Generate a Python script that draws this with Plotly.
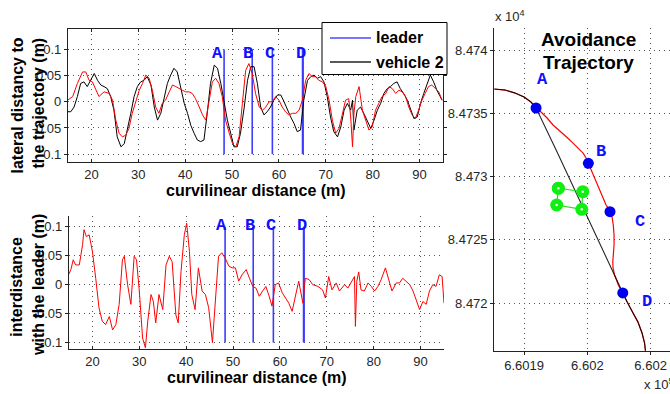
import plotly.graph_objects as go

# ---------------- data: top plot (lateral distance) ----------------
s_red_top = [14.9, 16.0, 17.0, 18.1, 18.8, 19.5, 20.2, 20.9, 21.6, 22.7, 23.8, 24.5, 25.2, 25.9, 26.6,
             27.3, 28.0, 28.7, 29.5, 30.2, 30.9, 31.6, 32.3, 33.0, 33.7, 34.4, 35.1, 35.8, 36.6, 37.3,
             38.0, 38.7, 39.4, 40.1, 40.8, 41.5, 42.2, 43.0, 43.7, 44.4, 45.1, 45.8, 46.5, 47.2, 47.9,
             48.6, 49.4, 50.1, 50.8, 51.5, 52.2, 52.9, 53.6, 54.3, 55.0, 55.8, 56.5, 57.2, 57.9, 58.6,
             59.3, 60.0, 60.7, 61.4, 62.1, 62.9, 63.6, 64.3, 65.0, 65.7, 66.4, 67.1, 67.8, 68.5, 69.3,
             70.0, 70.7, 71.4, 72.1, 72.8, 73.5, 74.2, 74.9, 75.3, 75.7, 76.0, 76.4, 77.1, 77.8, 78.5,
             79.2, 79.9, 80.6, 81.3, 82.0, 82.8, 83.5, 84.2, 84.9, 85.6, 86.3, 87.0, 87.7, 88.4, 89.1,
             89.8, 90.5, 91.2, 91.9, 92.6, 93.3, 94.1, 94.8]
lat_red_top = [0.003, 0.010, 0.035, 0.057, 0.057, 0.041, 0.038, 0.025, 0.010, 0.019, 0.016, 0.003, -0.035, -0.060, -0.067,
               -0.064, -0.051, -0.022, 0.003, 0.022, 0.035, 0.051, 0.045, 0.022, -0.010, -0.022, -0.003, 0.003, 0.019, 0.032,
               0.029, 0.025, 0.022, 0.019, 0.019, 0.016, 0.006, -0.010, -0.025, -0.035, 0.003, 0.038, 0.045, 0.035, 0.010,
               -0.035, -0.060, -0.080, -0.086, -0.067, -0.003, 0.060, 0.073, 0.054, 0.016, -0.010, -0.016, -0.010, 0.000, 0.000,
               0.010, 0.003, -0.010, -0.019, -0.025, -0.022, -0.022, -0.016, 0.003, 0.041, 0.054, 0.048, 0.048, 0.041, 0.038,
               0.029, 0.003, -0.035, -0.060, -0.051, -0.025, 0.003, 0.006, -0.029, -0.086, -0.022, 0.010, 0.029, -0.016, -0.035,
               -0.054, -0.048, -0.016, -0.003, 0.010, 0.016, 0.029, 0.025, 0.016, 0.022, 0.019, 0.010, -0.010, -0.025, -0.032,
               -0.016, 0.003, 0.016, 0.029, 0.032, 0.025, 0.019, 0.003]

s_black_top = [14.9, 15.6, 16.3, 17.0, 17.7, 18.4, 19.1, 19.9, 20.6, 21.3, 22.0, 22.7, 23.4, 24.1, 24.8,
               25.5, 26.3, 27.0, 27.7, 28.4, 29.1, 29.8, 30.5, 31.2, 31.9, 32.7, 33.4, 34.1, 34.8, 35.5,
               36.2, 36.9, 37.6, 38.3, 39.0, 39.8, 40.5, 41.2, 41.9, 42.6, 43.3, 44.0, 44.7, 45.4, 46.2,
               46.9, 47.6, 48.3, 49.0, 49.7, 50.4, 51.1, 51.8, 52.6, 53.3, 54.0, 54.7, 55.4, 56.1, 56.8,
               57.5, 58.2, 58.9, 59.7, 60.4, 61.1, 61.8, 62.5, 63.2, 63.9, 64.6, 65.3, 66.1, 66.8, 67.5,
               68.2, 68.9, 69.6, 70.3, 71.0, 71.7, 72.5, 73.2, 73.9, 74.6, 75.3, 75.7, 76.0, 76.7, 77.4,
               78.1, 78.8, 79.6, 80.3, 81.0, 81.7, 82.4, 83.1, 83.8, 84.5, 85.2, 85.9, 86.6, 87.4, 88.1,
               88.8, 89.5, 90.2, 90.9, 91.6, 92.3, 93.0, 93.7, 94.4, 94.8]
lat_black_top = [-0.019, -0.019, -0.010, 0.010, 0.035, 0.038, 0.029, 0.041, 0.054, 0.041, 0.032, 0.029, 0.025, 0.010, -0.016,
                 -0.067, -0.086, -0.080, -0.054, -0.022, 0.010, 0.029, 0.038, 0.041, 0.048, 0.032, -0.010, -0.035, -0.022, 0.010,
                 0.035, 0.051, 0.064, 0.057, 0.029, -0.003, -0.022, -0.045, -0.060, -0.073, -0.076, -0.073, -0.022, 0.035, 0.070,
                 0.064, 0.035, -0.003, -0.035, -0.060, -0.086, -0.086, -0.060, -0.010, 0.041, 0.067, 0.067, 0.035, -0.010, -0.025,
                 -0.019, -0.010, 0.003, 0.013, 0.013, 0.000, -0.016, -0.029, -0.041, -0.057, -0.054, 0.003, 0.041, 0.048, 0.051,
                 0.045, 0.048, 0.038, 0.010, -0.029, -0.057, -0.067, -0.048, -0.016, -0.003, -0.016, 0.003, -0.054, -0.016, -0.010,
                 -0.022, -0.035, -0.051, -0.035, -0.016, -0.003, 0.016, 0.025, 0.029, 0.035, 0.038, 0.025, 0.016, 0.003, -0.016,
                 -0.032, -0.029, -0.003, 0.016, 0.035, 0.051, 0.038, 0.022, 0.010, 0.003]

# ---------------- data: bottom plot (interdistance) ----------------
s_bot = [14.9, 15.4, 15.9, 16.4, 17.2, 17.9, 18.2, 18.7, 19.3, 20.0, 20.7, 21.4, 22.1, 22.8, 23.6,
         24.3, 25.0, 25.7, 26.4, 26.8, 27.5, 28.2, 28.9, 29.4, 30.0, 30.7, 31.3, 31.8, 32.5, 33.0,
         33.5, 34.2, 35.0, 35.7, 36.4, 37.0, 37.8, 38.3, 38.9, 39.6, 40.1, 40.7, 41.2, 41.9, 42.6,
         43.4, 44.1, 44.8, 45.6, 46.2, 46.9, 47.6, 48.3, 49.1, 49.8, 50.5, 51.2, 51.9, 52.8, 53.5,
         54.2, 54.9, 55.6, 56.3, 57.0, 57.7, 58.3, 59.0, 59.7, 60.5, 61.2, 61.9, 62.6, 63.3, 64.0,
         64.9, 65.4, 66.2, 67.0, 68.1, 69.1, 69.7, 70.4, 71.1, 72.0, 72.7, 73.8, 74.5, 75.2, 75.9,
         76.1, 76.4, 76.8, 77.3, 78.0, 78.8, 79.5, 80.2, 80.9, 81.6, 82.5, 83.2, 83.9, 84.8, 85.5,
         86.2, 87.0, 87.7, 88.4, 89.1, 89.8, 90.5, 91.2, 91.9, 92.6, 93.3, 94.0, 94.6, 95.0]
gap_bot = [0.017, 0.026, 0.043, 0.034, 0.034, 0.069, 0.095, 0.083, 0.086, 0.057, 0.011, -0.040, -0.063, -0.069, -0.055,
           -0.078, -0.069, -0.034, 0.043, 0.049, 0.000, -0.034, 0.049, 0.043, -0.011, -0.092, -0.109, -0.063, -0.017, -0.029,
           -0.066, -0.017, -0.043, 0.034, 0.049, 0.040, -0.052, -0.066, 0.023, 0.086, 0.106, 0.057, -0.017, -0.043, 0.029,
           -0.011, -0.017, -0.040, -0.100, -0.023, 0.049, 0.055, 0.046, 0.032, 0.029, 0.029, 0.006, 0.017, 0.026, 0.011,
           -0.003, -0.006, -0.020, -0.011, -0.003, -0.020, -0.037, 0.000, 0.003, -0.014, -0.023, -0.032, -0.046, -0.020, 0.006,
           -0.032, 0.011, 0.009, 0.000, -0.003, -0.009, -0.023, 0.014, -0.009, 0.003, -0.011, 0.000, -0.006, 0.003, 0.014,
           -0.072, 0.006, 0.022, -0.009, -0.011, 0.003, -0.003, -0.011, -0.003, 0.009, 0.029, 0.009, -0.011, 0.003, 0.003,
           0.011, 0.006, 0.000, -0.011, -0.029, -0.043, -0.029, -0.034, -0.011, 0.000, -0.003, 0.017, 0.014, -0.032]

event_names = ["A", "B", "C", "D"]
event_s = [48.3, 54.3, 58.6, 65.1]
label_s_top = [46.9, 53.5, 58.1, 64.8]
label_s_bot = [47.6, 53.6, 58.1, 64.6]
label_lat_top = 0.093
label_gap_bot = 0.102

s_ticks = [20, 30, 40, 50, 60, 70, 80, 90]
lat_ticks = [-0.1, -0.05, 0, 0.05, 0.1]
lat_tick_text = ["-0.1", "-0.05", "0", "0.05", "0.1"]

# ---------------- data: right plot (avoidance trajectory) ----------------
ref_x = [660187.63, 660188.50, 660189.29, 660190.00, 660190.55, 660190.95, 660192.61, 660194.27, 660197.43,
         660197.80, 660198.14, 660198.61, 660199.00, 660199.32, 660199.52, 660199.60]
ref_y = [84736.92, 84736.84, 84736.60, 84736.29, 84735.89, 84735.42, 84731.94, 84728.39, 84721.67,
         84720.81, 84720.09, 84719.23, 84718.51, 84717.65, 84716.86, 84716.15]
avoid_x = [660187.63, 660188.50, 660189.29, 660190.00, 660190.55, 660190.95, 660191.34, 660191.82, 660192.29,
           660192.84, 660193.40, 660193.89, 660194.34, 660194.68, 660194.92, 660195.08, 660195.33, 660195.61,
           660195.92, 660196.26, 660196.48, 660196.66, 660196.79, 660196.95, 660197.05, 660197.11, 660197.11,
           660197.03, 660197.01, 660197.03, 660197.15, 660197.45, 660197.80, 660198.14, 660198.61, 660199.00,
           660199.32, 660199.52, 660199.60]
avoid_y = [84736.92, 84736.84, 84736.60, 84736.29, 84735.89, 84735.42, 84735.10, 84734.63, 84734.08,
           84733.55, 84733.09, 84732.63, 84732.22, 84731.84, 84731.43, 84731.05, 84730.40, 84729.73,
           84728.94, 84728.15, 84727.76, 84727.50, 84727.23, 84726.81, 84726.18, 84725.39, 84724.60,
           84723.81, 84723.25, 84722.78, 84722.23, 84721.44, 84720.81, 84720.09, 84719.23, 84718.51,
           84717.65, 84716.86, 84716.15]
event_x = [660190.95, 660195.08, 660196.79, 660197.80]
event_y = [84735.42, 84731.05, 84727.23, 84720.81]
event_label_x = [660191.48, 660196.08, 660199.16, 660199.69]
event_label_y = [84737.71, 84731.97, 84726.49, 84720.17]
obstacle_x = [660192.71, 660194.64, 660194.56, 660192.58, 660192.71]
obstacle_y = [84729.08, 84728.81, 84727.42, 84727.76, 84729.08]

east_ticks = [660190, 660195, 660200]
east_tick_text = ["6.6019", "6.602", "6.602"]
north_ticks = [84720, 84725, 84730, 84735, 84740]
north_tick_text = ["8.472", "8.4725", "8.473", "8.4735", "8.474"]

# ---------------- figure ----------------
SANS = "Liberation Sans, Arial, sans-serif"
MONO = "Liberation Mono, Courier New, monospace"
BLUE_LINE = "#3c3cff"
BLUE_TXT = "#1010ff"
TICKC = "#262626"
W, H = 670, 394


def px(x):
    return x / W


def py(y):
    return 1 - y / H


fig = go.Figure()

# top plot
for i, s in enumerate(event_s):
    fig.add_trace(go.Scatter(x=[s, s], y=[-0.1, 0.1], mode="lines",
                             line=dict(color=BLUE_LINE, width=1.6 if i < 3 else 2.2),
                             xaxis="x", yaxis="y", showlegend=False, hoverinfo="skip"))
fig.add_trace(go.Scatter(x=s_black_top, y=lat_black_top, mode="lines",
                         line=dict(color="black", width=1), xaxis="x", yaxis="y", showlegend=False))
fig.add_trace(go.Scatter(x=s_red_top, y=lat_red_top, mode="lines",
                         line=dict(color="red", width=1), xaxis="x", yaxis="y", showlegend=False))

# bottom plot
for i, s in enumerate(event_s):
    fig.add_trace(go.Scatter(x=[s, s], y=[-0.1, 0.1], mode="lines",
                             line=dict(color=BLUE_LINE, width=1.6 if i < 3 else 2.2),
                             xaxis="x2", yaxis="y2", showlegend=False, hoverinfo="skip"))
fig.add_trace(go.Scatter(x=s_bot, y=gap_bot, mode="lines",
                         line=dict(color="red", width=1), xaxis="x2", yaxis="y2", showlegend=False))

# right plot
fig.add_trace(go.Scatter(x=avoid_x, y=avoid_y, mode="lines",
                         line=dict(color="red", width=1.2), xaxis="x3", yaxis="y3", showlegend=False))
fig.add_trace(go.Scatter(x=ref_x, y=ref_y, mode="lines",
                         line=dict(color="rgba(0,0,0,0.85)", width=1.1), xaxis="x3", yaxis="y3", showlegend=False))
fig.add_trace(go.Scatter(x=obstacle_x, y=obstacle_y, mode="lines+markers",
                         line=dict(color="#22dd22", width=1.2),
                         marker=dict(color="#11ee11", size=13),
                         xaxis="x3", yaxis="y3", showlegend=False))
fig.add_trace(go.Scatter(x=obstacle_x[:4], y=obstacle_y[:4], mode="markers",
                         marker=dict(color="white", size=2.5),
                         xaxis="x3", yaxis="y3", showlegend=False))
fig.add_trace(go.Scatter(x=event_x, y=event_y, mode="markers",
                         marker=dict(color="#0000f0", size=11),
                         xaxis="x3", yaxis="y3", showlegend=False))

ann = []
letter_font = dict(family=MONO, size=17, color=BLUE_TXT)
for n, xs in zip(event_names, label_s_top):
    ann.append(dict(x=xs, y=label_lat_top, xref="x", yref="y", text="<b>%s</b>" % n,
                    xanchor="center", yanchor="middle", showarrow=False, font=letter_font))
for n, xs in zip(event_names, label_s_bot):
    ann.append(dict(x=xs, y=label_gap_bot, xref="x2", yref="y2", text="<b>%s</b>" % n,
                    xanchor="center", yanchor="middle", showarrow=False, font=letter_font))
for n, xs, ys in zip(event_names, event_label_x, event_label_y):
    ann.append(dict(x=xs, y=ys, xref="x3", yref="y3", text="<b>%s</b>" % n,
                    xanchor="center", yanchor="middle", showarrow=False, font=letter_font))

bold16 = dict(family=SANS, size=16, color="black")


def paper_text(x, y, text, font, xanchor="center", angle=0):
    return dict(x=px(x), y=py(y), xref="paper", yref="paper", text=text, showarrow=False,
                xanchor=xanchor, yanchor="middle", textangle=angle, font=font)


ann += [
    paper_text(255.5, 190, "<b>curvilinear distance (m)</b>", bold16),
    paper_text(256.5, 377, "<b>curvilinear distance (m)</b>", bold16),
    paper_text(17, 105.5, "<b>lateral distancy to</b>", bold16, angle=-90),
    paper_text(38, 103.5, "<b>the trajectory (m)</b>", bold16, angle=-90),
    paper_text(17, 286.7, "<b>interdistance</b>", bold16, angle=-90),
    paper_text(38, 285, "<b>with the leader (m)</b>", bold16, angle=-90),
    paper_text(588.5, 39.5, "<b>Avoidance</b>", dict(family=SANS, size=19, color="black")),
    paper_text(588.5, 62.5, "<b>Trajectory</b>", dict(family=SANS, size=19, color="black")),
    paper_text(493, 16, "x 10<sup>4</sup>", dict(family=SANS, size=13, color=TICKC), xanchor="left"),
    paper_text(642, 384, "x 10<sup>5</sup>", dict(family=SANS, size=13, color=TICKC), xanchor="left"),
    # legend text
    paper_text(374, 38, "<b>leader</b>", bold16, xanchor="left"),
    paper_text(374, 62, "<b>vehicle 2</b>", bold16, xanchor="left"),
]

shapes = [
    dict(type="rect", xref="paper", yref="paper", x0=px(322), x1=px(447), y0=py(74.5), y1=py(22.5),
         line=dict(color="black", width=1), fillcolor="white", layer="above"),
    dict(type="line", xref="paper", yref="paper", x0=px(330), x1=px(371), y0=py(38), y1=py(38),
         line=dict(color="#4848ff", width=1.3), layer="above"),
    dict(type="line", xref="paper", yref="paper", x0=px(330), x1=px(371), y0=py(62), y1=py(62),
         line=dict(color="#222", width=1.3), layer="above"),
]

grid = dict(showgrid=True, gridcolor="#555", griddash="1px,4px", gridwidth=1, zeroline=False,
            showline=True, linecolor="#222", linewidth=1.2,
            tickfont=dict(family=SANS, size=13, color=TICKC), ticklen=3, tickcolor="#222")

fig.update_layout(
    width=W, height=H, margin=dict(l=0, r=0, t=0, b=0, autoexpand=False),
    paper_bgcolor="white", plot_bgcolor="white", showlegend=False,
    xaxis=dict(domain=[px(68), px(443)], range=[15, 95], anchor="y", tickvals=s_ticks,
               ticks="inside", mirror="ticks", **grid),
    yaxis=dict(domain=[py(162), py(29)], range=[-0.115, 0.139], anchor="x", tickvals=lat_ticks,
               ticktext=lat_tick_text, ticks="outside", mirror="ticks", **grid),
    xaxis2=dict(domain=[px(69), px(444)], range=[15, 95], anchor="y2", tickvals=s_ticks,
                ticks="inside", **grid),
    yaxis2=dict(domain=[py(349), py(215.7)], range=[-0.111, 0.119], anchor="x2", tickvals=lat_ticks,
                ticktext=lat_tick_text, ticks="outside", **grid),
    xaxis3=dict(domain=[px(494.3), 1.0], range=[660187.65, 660201.53], anchor="y3", tickvals=east_ticks,
                ticktext=east_tick_text, ticks="outside", **grid),
    yaxis3=dict(domain=[py(350.7), py(28)], range=[84716.25, 84741.74], anchor="x3", tickvals=north_ticks,
                ticktext=north_tick_text, ticks="outside", **grid),
    annotations=ann, shapes=shapes,
)

fig.write_html("out.html", config={"displayModeBar": False},
               post_script="document.body.style.margin='0';document.body.style.overflow='hidden';")
